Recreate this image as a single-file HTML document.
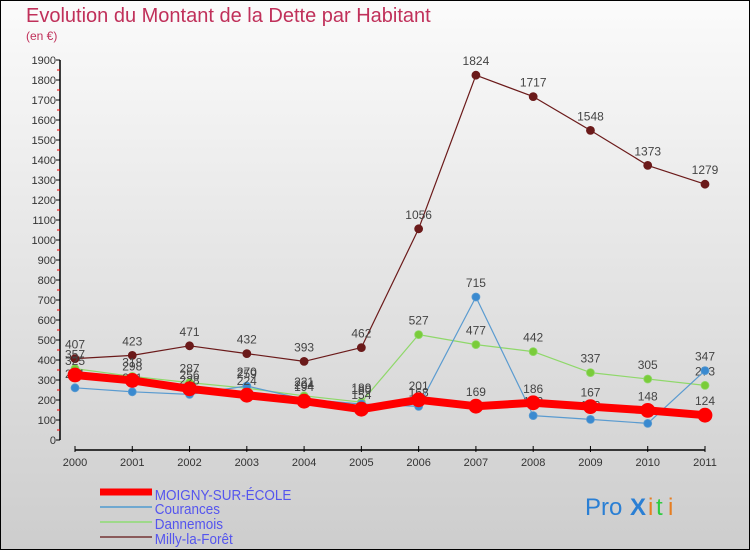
<!DOCTYPE html>
<html><head><meta charset="utf-8"><style>
body{margin:0;width:750px;height:550px;overflow:hidden;font-family:"Liberation Sans",sans-serif}
svg{display:block}
</style></head><body>
<svg id="chart" width="750" height="550" viewBox="0 0 750 550">
<defs><linearGradient id="bg" x1="0" y1="0" x2="0" y2="1"><stop offset="0" stop-color="#fbfbfb"/><stop offset="1" stop-color="#cdcdcd"/></linearGradient></defs>
<rect x="0.5" y="0.5" width="749" height="549" fill="url(#bg)" stroke="#000"/>
<text x="26" y="22" font-size="20" fill="#c0305a">Evolution du Montant de la Dette par Habitant</text>
<text x="26" y="40" font-size="12" fill="#c0305a">(en €)</text>
<g id="axes"></g><g id="series"></g>
<g>
<line x1="100" y1="492" x2="152" y2="492" stroke="#ff0000" stroke-width="7"/>
<line x1="100" y1="507" x2="152" y2="507" stroke="#6fa8d0" stroke-width="2"/>
<line x1="100" y1="522" x2="152" y2="522" stroke="#9ed98a" stroke-width="2"/>
<line x1="100" y1="537" x2="152" y2="537" stroke="#8a5a5a" stroke-width="2"/>
<g font-size="15" fill="#5555ee" transform="scale(0.9,1)">
<text x="172" y="500">MOIGNY-SUR-ÉCOLE</text>
<text x="172" y="514">Courances</text>
<text x="172" y="529">Dannemois</text>
<text x="172" y="544">Milly-la-Forêt</text>
</g></g>
<g font-size="24" font-family="Liberation Sans">
<text x="585" y="515" fill="#2a7fd4">Pro</text><text x="630" y="515" fill="#2a7fd4" font-weight="bold">X</text><text x="648" y="515" fill="#e67e22">i</text><text x="656" y="515" fill="#2ecc40">t</text><text x="668" y="515" fill="#e67e22">i</text>
</g>
</svg>
<script>
const years=["2000","2001","2002","2003","2004","2005","2006","2007","2008","2009","2010","2011"];
const moigny=[325,298,256,224,194,154,201,169,186,167,148,124];
const courances=[261,241,228,270,204,180,168,715,122,103,83,347];
const dannemois=[357,318,287,259,221,189,527,477,442,337,305,273];
const milly=[407,423,471,432,393,462,1056,1824,1717,1548,1373,1279];
const yTicks=[0,100,200,300,400,500,600,700,800,900,1000,1100,1200,1300,1400,1500,1600,1700,1800,1900];
const NS="http://www.w3.org/2000/svg";
const X=i=>75+i*(630/(years.length-1));
const Y=v=>440-v*0.2;
function mk(t,a,p){const e=document.createElementNS(NS,t);for(const k in a)e.setAttribute(k,a[k]);p.appendChild(e);return e;}
const ax=document.getElementById('axes');
const yl=mk('line',{x1:60,y1:Y(1900),x2:60,y2:440,stroke:'#000','stroke-width':1.5},ax);


yTicks.forEach(v=>{
  mk('line',{x1:56,y1:Y(v),x2:60,y2:Y(v),stroke:'#000'},ax);
  if(v<1900) mk('line',{x1:57,y1:Y(v+50),x2:60,y2:Y(v+50),stroke:'#e00'},ax);
  const t=mk('text',{x:56,y:Y(v)+4,'font-size':11,fill:'#333','text-anchor':'end'},ax);
  t.textContent=v;
  
  
});
const xl=mk('line',{x1:75,y1:450,x2:705,y2:450,stroke:'#000','stroke-width':1.5},ax);


years.forEach((y,i)=>{
  mk('line',{x1:X(i),y1:446,x2:X(i),y2:452,stroke:'#000'},ax);
  const t=mk('text',{x:X(i),y:466,'font-size':11,fill:'#333','text-anchor':'middle'},ax);
  t.textContent=y;
  
  
});
const sg=document.getElementById('series');
function series(vals,name,color,w,r,dot){
  const g=mk('g',{},sg);
  
  
  mk('polyline',{points:vals.map((v,i)=>X(i)+','+Y(v)).join(' '),fill:'none',stroke:color,'stroke-width':w,'stroke-linejoin':'round'},g);
  vals.forEach((v,i)=>{
    const c=mk('circle',{cx:X(i),cy:Y(v),r:r,fill:dot,stroke:color,'stroke-width':0.8},g);
    
    
    const t=mk('text',{x:X(i),y:Y(v)-10,'font-size':12,fill:'#444','text-anchor':'middle'},g);
    t.textContent=v;
    
    
  });
}
series(milly,'milly-series','#6b1a1a',1.2,4,'#6b1a1a');
series(dannemois,'dannemois-series','#8fd86a',1.2,4,'#7acc3a');
series(courances,'courances-series','#5a9bd0',1.2,4,'#3a8ad0');
series(moigny,'moigny-series','#ff0000',8,7,'#ff0000');
</script>
</body></html>
